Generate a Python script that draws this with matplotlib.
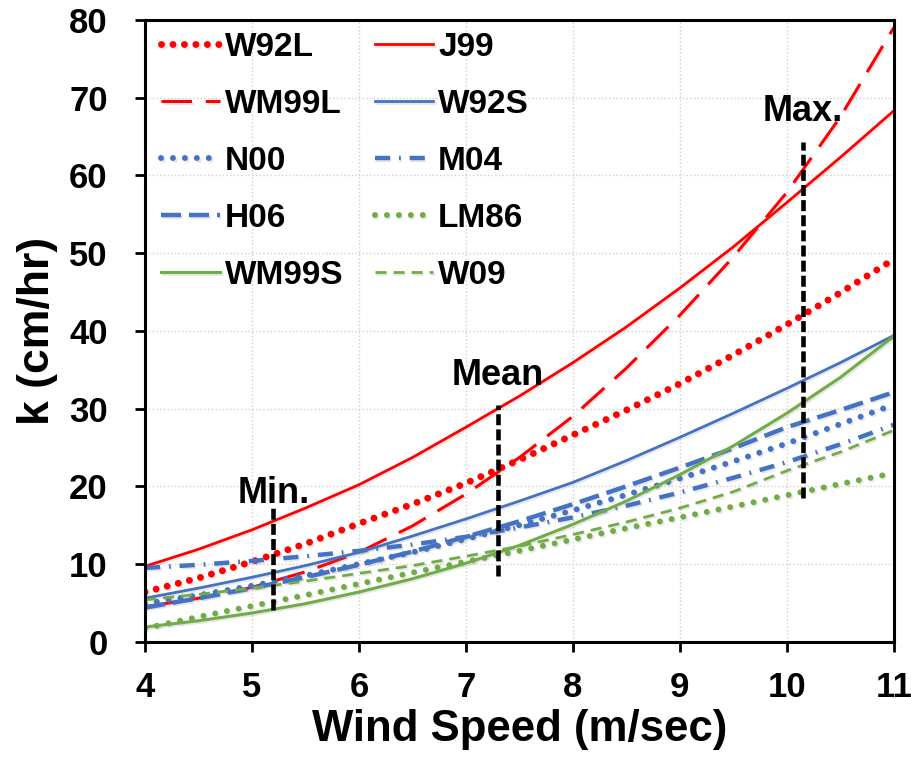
import matplotlib
matplotlib.use("Agg")
import matplotlib.pyplot as plt
import matplotlib.patheffects as pe

plt.rcParams['font.family'] = ['Liberation Sans', 'DejaVu Sans']
plt.rcParams['font.weight'] = 'bold'

# ---- data ----
wind = [4.0, 4.5, 5.0, 5.5, 6.0, 6.5, 7.0, 7.5, 8.0, 8.5, 9.0, 9.5, 10.0, 10.5, 11.0]

W92L  = [6.4, 8.2, 10.3, 12.6, 15.2, 17.7, 20.4, 23.4, 26.6, 29.8, 33.2, 36.9, 40.8, 44.9, 49.2]
J99   = [9.7, 11.9, 14.4, 17.2, 20.2, 23.7, 27.6, 31.6, 35.9, 40.5, 45.5, 50.8, 56.5, 62.3, 68.3]
WM99L = [4.5, 5.6, 7.0, 9.0, 11.5, 14.9, 19.0, 23.7, 29.0, 35.2, 42.0, 49.5, 57.8, 67.5, 79.0]
W92S  = [5.6, 6.9, 8.3, 9.8, 11.5, 13.6, 15.8, 18.1, 20.5, 23.3, 26.3, 29.4, 32.6, 35.9, 39.4]
N00   = [4.9, 6.0, 7.2, 8.5, 10.0, 11.5, 13.2, 15.0, 16.9, 18.9, 21.0, 23.2, 25.5, 28.0, 30.5]
M04   = [9.5, 9.9, 10.4, 11.0, 11.7, 12.5, 13.5, 14.7, 16.0, 17.5, 19.2, 21.1, 23.1, 25.4, 27.9]
H06   = [4.4, 5.6, 6.9, 8.3, 9.9, 11.6, 13.5, 15.5, 17.7, 20.0, 22.4, 24.9, 27.6, 29.8, 32.1]
LM86  = [1.75, 3.2, 4.6, 6.0, 7.45, 8.9, 10.3, 11.7, 13.15, 14.6, 16.0, 17.4, 18.85, 20.3, 21.7]
WM99S = [1.9, 2.7, 3.7, 4.9, 6.4, 8.1, 10.1, 12.4, 15.1, 18.1, 21.5, 25.2, 29.4, 34.0, 39.3]
W09   = [5.4, 6.1, 6.9, 7.8, 8.8, 9.8, 11.0, 12.3, 13.8, 15.4, 17.2, 19.3, 22.0, 24.4, 27.2]

marker_names = ["Min.", "Mean", "Max."]
marker_x     = [5.2, 7.3, 10.15]
marker_ylow  = [4.1, 8.5, 18.5]
marker_yhigh = [17.3, 30.4, 64.3]
marker_text_y = [17.9, 33.0, 67.0]

x_ticks = [4, 5, 6, 7, 8, 9, 10, 11]
y_ticks = [0, 10, 20, 30, 40, 50, 60, 70, 80]

RED = '#FF0000'
BLUE = '#4472C4'
GREEN = '#70AD47'

fig = plt.figure(figsize=(9.12, 7.64), dpi=100)
ax = fig.add_axes([0.159, 0.160, 0.821, 0.814])

shadow = [pe.SimpleLineShadow(offset=(1.2, -1.2), alpha=0.18, shadow_color='gray'), pe.Normal()]

def dotted(lw, gap):
    return dict(linestyle=(0, (0.001, gap)), dash_capstyle='round', linewidth=lw)

series = {}
series['W92L'] = ax.plot(wind, W92L, color=RED, **dotted(5.0, 1.65), path_effects=shadow)[0]
series['J99'] = ax.plot(wind, J99, color=RED, linewidth=2.0, path_effects=shadow)[0]
series['WM99L'] = ax.plot(wind, WM99L, color=RED, linewidth=2.2, linestyle=(0, (10, 4.5)), path_effects=shadow)[0]
series['W92S'] = ax.plot(wind, W92S, color=BLUE, linewidth=2.0, path_effects=shadow)[0]
series['N00'] = ax.plot(wind, N00, color=BLUE, **dotted(4.3, 2.0), path_effects=shadow)[0]
series['M04'] = ax.plot(wind, M04, color=BLUE, linewidth=3.2, linestyle=(0, (3.4, 2.0, 0.4, 2.0)), path_effects=shadow)[0]
series['H06'] = ax.plot(wind, H06, color=BLUE, linewidth=3.2, linestyle=(0, (4.5, 1.8)), path_effects=shadow)[0]
series['LM86'] = ax.plot(wind, LM86, color=GREEN, **dotted(4.3, 2.0), path_effects=shadow)[0]
series['WM99S'] = ax.plot(wind, WM99S, color=GREEN, linewidth=2.2, path_effects=shadow)[0]
series['W09'] = ax.plot(wind, W09, color=GREEN, linewidth=2.0, linestyle=(0, (4, 2.5)), path_effects=shadow)[0]

for name, xv, y0, y1, ty in zip(marker_names, marker_x, marker_ylow, marker_yhigh, marker_text_y):
    ax.plot([xv, xv], [y0, y1], color='black', linewidth=3.3, linestyle=(0, (2.4, 0.9)), zorder=5)
    ax.text(xv, ty, name, ha='center', va='baseline', fontsize=26, fontweight='bold', zorder=6)

ax.set_xlim(4, 11)
ax.set_ylim(0, 80)
ax.set_xticks(x_ticks)
ax.set_yticks(y_ticks)
ax.grid(True, color='#d0d0d0', linestyle=':', linewidth=1.0)
ax.set_axisbelow(True)

for s in ax.spines.values():
    s.set_linewidth(2.2)
    s.set_color('black')

ax.tick_params(axis='both', direction='out', length=7, width=2.0, labelsize=25)
ax.tick_params(axis='y', pad=20)
ax.tick_params(axis='x', pad=14)
for lbl in ax.get_xticklabels() + ax.get_yticklabels():
    lbl.set_fontweight('bold')

ax.set_xlabel('Wind Speed (m/sec)', fontsize=31.5, fontweight='bold', labelpad=4)
ax.set_ylabel('k (cm/hr)', fontsize=32, fontweight='bold', labelpad=8)

order = ['W92L', 'WM99L', 'N00', 'H06', 'WM99S', 'J99', 'W92S', 'M04', 'LM86', 'W09']
leg = ax.legend([series[k] for k in order], order, ncol=2, loc='upper left',
                bbox_to_anchor=(0.006, 1.0), frameon=False, fontsize=24,
                handlelength=1.75, handletextpad=0.15, columnspacing=0.95,
                labelspacing=0.78, borderaxespad=0.2, borderpad=0.15)
for t in leg.get_texts():
    t.set_fontweight('bold')

fig.savefig('out.png', dpi=100)
